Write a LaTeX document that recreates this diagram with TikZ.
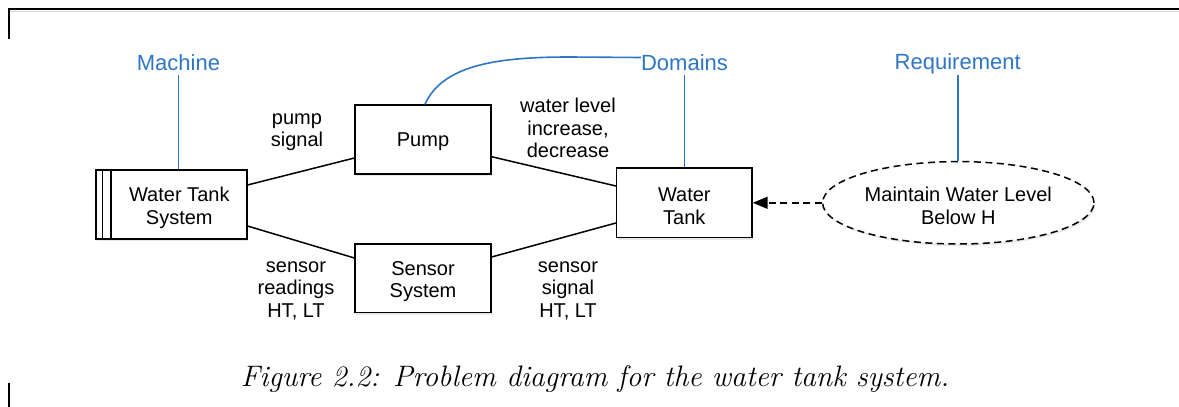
\documentclass[tikz,border=0pt]{standalone}
\usepackage{fontspec}
\setsansfont{Liberation Sans}
\usetikzlibrary{arrows.meta,shapes.geometric,shadows}
\definecolor{labelblue}{RGB}{46,117,198}
\tikzset{
  domainbox/.style={draw, line width=1.5pt, fill=white, rectangle, inner sep=0pt,
    drop shadow={opacity=0.18, shadow xshift=1.2pt, shadow yshift=-2pt}},
  reqshape/.style={draw, line width=1.5pt, dash pattern=on 7pt off 4.5pt, fill=white,
    ellipse, inner sep=0pt,
    drop shadow={opacity=0.18, shadow xshift=1.2pt, shadow yshift=-2pt}},
  plaintext/.style={font=\sffamily\fontsize{20}{22.5}\selectfont, align=center, inner sep=0pt},
  kindlabel/.style={font=\sffamily\fontsize{22}{24}\selectfont, text=labelblue,
    inner sep=0pt, text height=16pt, text depth=5pt, anchor=base},
  link/.style={line width=1.5pt},
  kindlink/.style={line width=1.6pt, draw=labelblue},
  constrains/.style={line width=1.5pt, dash pattern=on 7pt off 4.5pt,
    -{Triangle[length=15pt,width=12pt]}},
  frameline/.style={line width=1.5pt, line cap=butt}
}
\begin{document}
\begin{tikzpicture}[x=1pt, y=-1pt]
  \useasboundingbox (0,0) rectangle (1179,407);

  % page frame fragments
  \draw[draw=black!15, line width=1pt] (10,11) -- (1179,11);
  \draw[frameline] (9,39) -- (9,9) -- (1179,9);
  \draw[frameline] (9,383) -- (9,407);

  % machine domain with its two stripes
  \node[domainbox, minimum width=150.7pt, minimum height=69pt] (mach) at (171.4,204.5) {};
  \draw[line width=1.3pt] ([xshift=7.3pt]mach.north west) -- ([xshift=7.3pt]mach.south west);
  \draw[line width=1.3pt] ([xshift=15.6pt]mach.north west) -- ([xshift=15.6pt]mach.south west);
  \node[plaintext] (machtext) at (179.3,208) {Water Tank\\System};

  % given domains
  \node[domainbox, minimum width=135.7pt, minimum height=69pt] (pump) at (423,139.5) {};
  \node[plaintext] (pumptext) at (423,142) {Pump};
  \node[domainbox, minimum width=135.7pt, minimum height=68.7pt] (sensor) at (423,278.3) {};
  \node[plaintext] (sensortext) at (423,281.5) {Sensor\\System};
  \node[domainbox, minimum width=135.3pt, minimum height=69.7pt] (tank) at (684.3,202.8) {};
  \node[plaintext] (tanktext) at (684.3,206) {Water\\Tank};

  % requirement
  \node[reqshape, minimum width=271.4pt, minimum height=82.4pt] (req) at (958.3,202.8) {};
  \node[plaintext] (reqtext) at (958.3,206) {Maintain Water Level\\Below H};

  % interfaces
  \draw[link] ([yshift=19.5pt]mach.east) -- ([yshift=-18.5pt]pump.west);
  \draw[link] ([yshift=-21.5pt]mach.east) -- ([yshift=20.3pt]sensor.west);
  \draw[link] ([yshift=-17.2pt]pump.east) -- ([yshift=16.8pt]tank.west);
  \draw[link] ([yshift=21.3pt]sensor.east) -- ([yshift=-20.2pt]tank.west);
  \draw[constrains] (req.west) -- (tank.east);

  % interface labels
  \node[plaintext] (pumpsig) at (297,132) {pump\\signal};
  \node[plaintext] (levelchg) at (568,128) {water level\\increase,\\decrease};
  \node[plaintext] (readings) at (296,290.5) {sensor\\readings\\HT, LT};
  \node[plaintext] (sigout) at (568,290.5) {sensor\\signal\\HT, LT};

  % kind annotations
  \node[kindlabel] (machL) at (178.5,70) {Machine};
  \node[kindlabel] (domL) at (684.5,70) {Domains};
  \node[kindlabel] (reqL) at (957.7,69.5) {Requirement};
  \draw[kindlink] (machL.south) -- (machL.south |- mach.north);
  \draw[kindlink] (domL.south) -- (domL.south |- tank.north);
  \draw[kindlink] (reqL.south) -- (reqL.south |- req.north);
  \draw[kindlink] ([xshift=2pt]pump.north) .. controls (443,64) and (500,57) .. (570,57)
    -- ([yshift=7pt]domL.west);

  % caption
  \node[anchor=base, inner sep=0pt, font=\fontsize{29.6}{32}\selectfont\itshape] (caption)
    at (595,386) {Figure 2.2: Problem diagram for the water tank system.};
\end{tikzpicture}
\end{document}
